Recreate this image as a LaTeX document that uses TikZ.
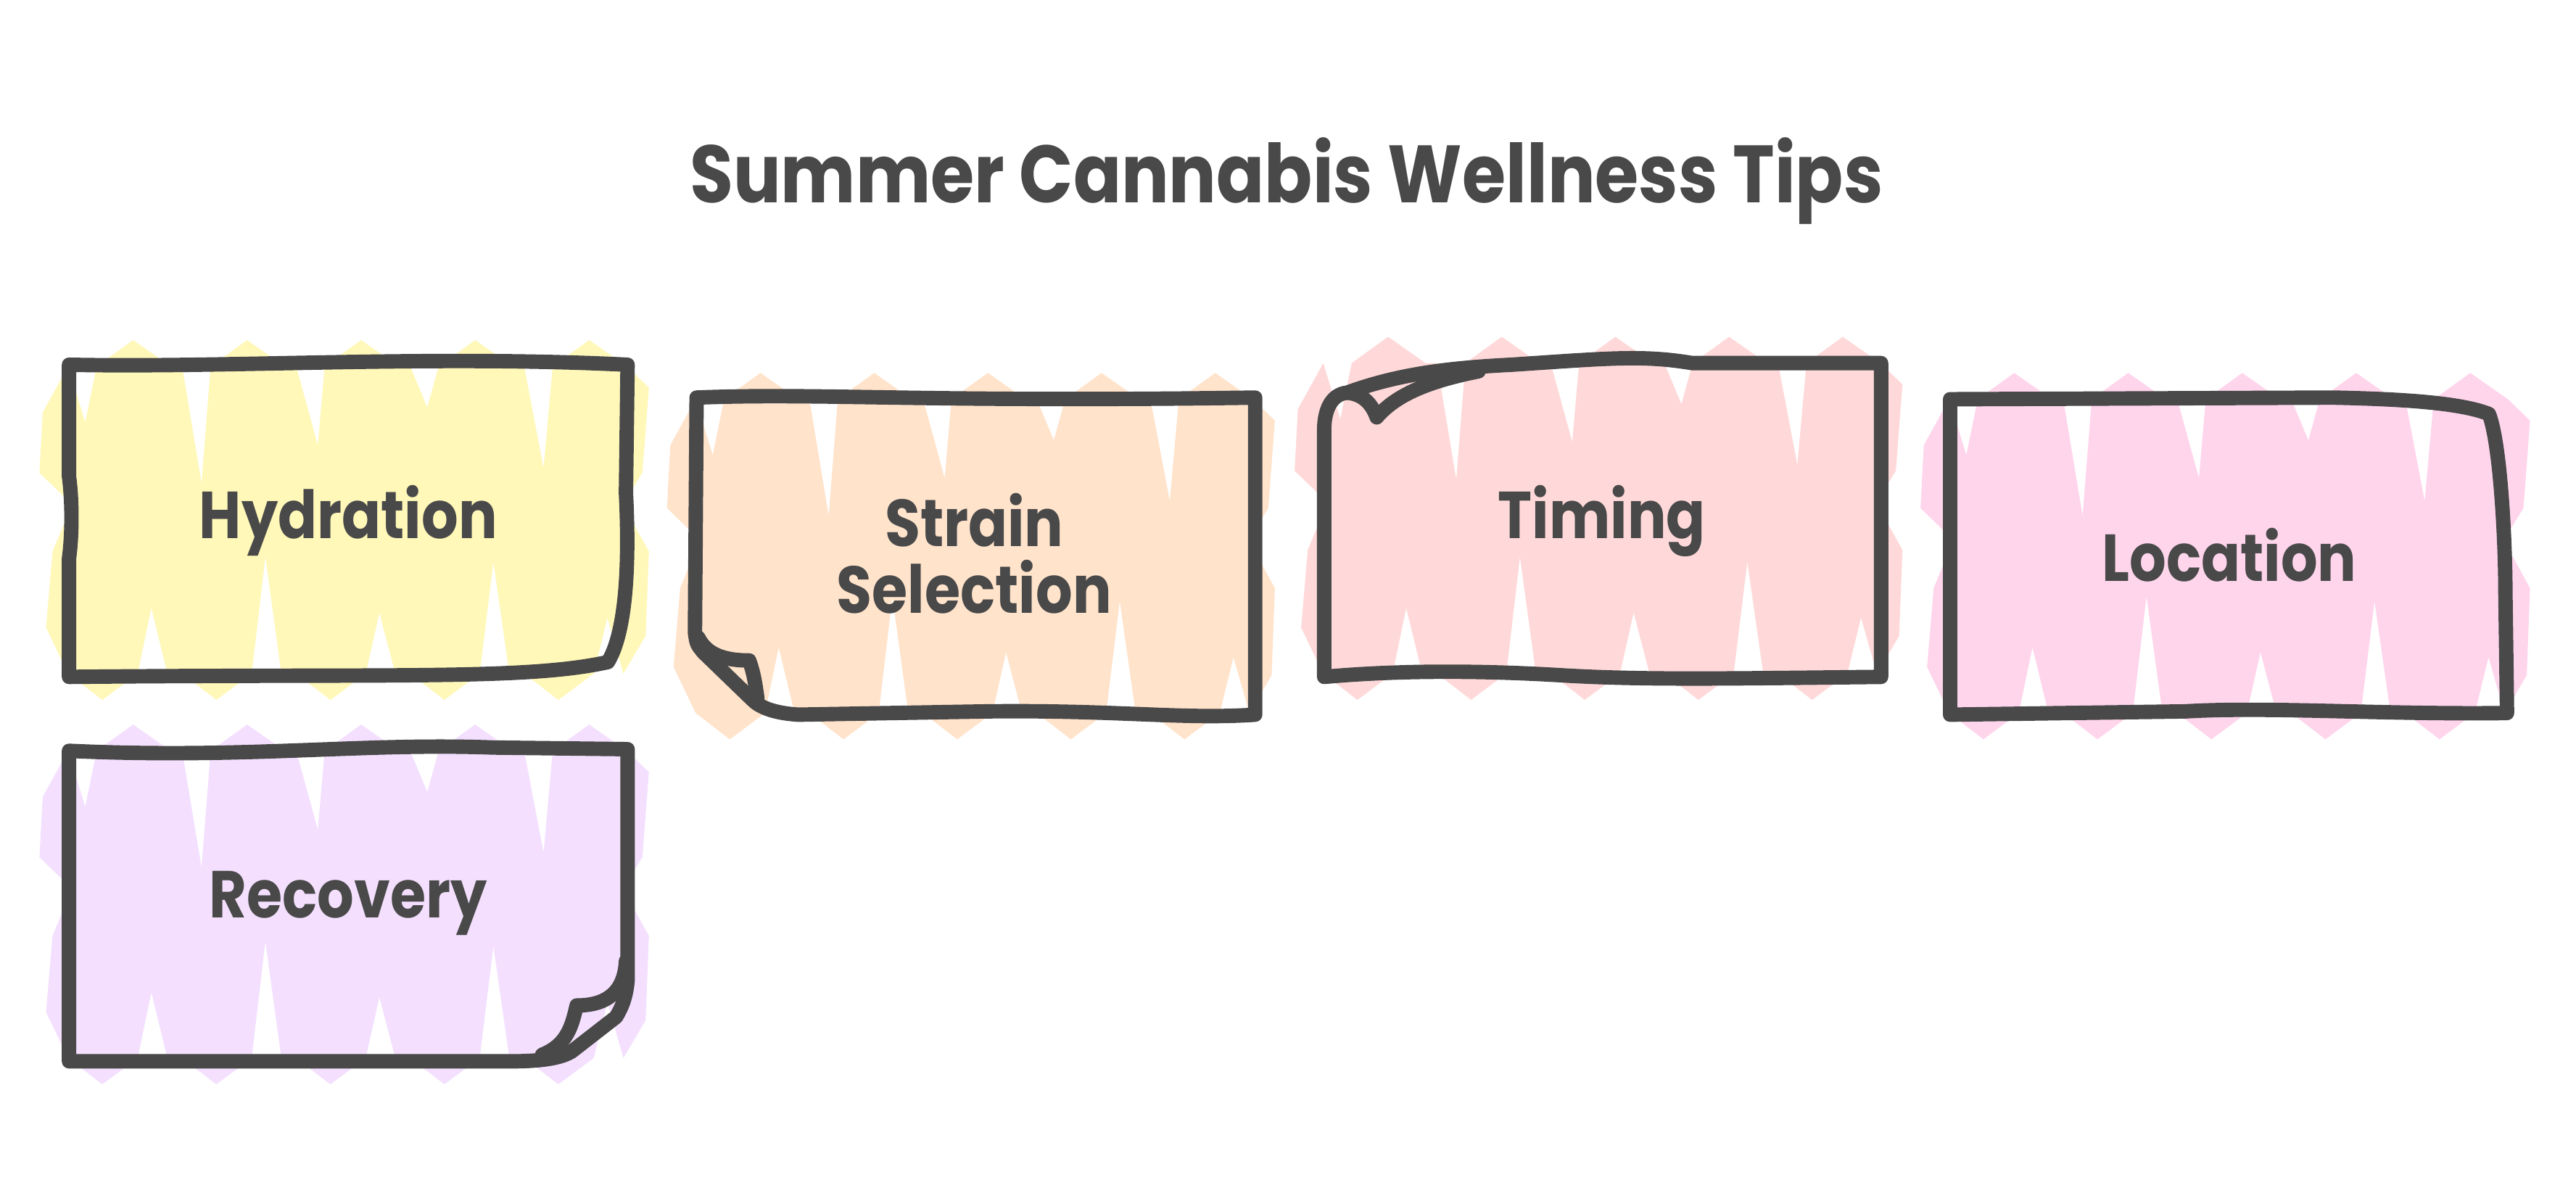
\documentclass[tikz,border=0pt]{standalone}
\usepackage{fontspec}
\usepackage{graphicx}
\setmainfont{Poppins}
\definecolor{ink}{HTML}{494949}
\definecolor{cyel}{HTML}{FFF8B9}
\definecolor{cpea}{HTML}{FFE3CB}
\definecolor{cros}{HTML}{FFD9D9}
\definecolor{cpin}{HTML}{FFD5EC}
\definecolor{clav}{HTML}{F4E0FE}
\newcommand\zigfill[5]{%
\fill[#1] ({#2-12},{#3+30})
 \foreach \k in {0,...,4}{
   -- ({#2+(\k+0.05)*(#4-#2)/5},{#3+2})
   -- ({#2+(\k+0.20+0.02*mod(\k,3))*(#4-#2)/5},{#3+25+mod(\k*37+11,60)})
   -- ({#2+(\k+0.30)*(#4-#2)/5},{#3+2})
   -- ({#2+(\k+0.62)*(#4-#2)/5},{#3-14})
   -- ({#2+(\k+0.95)*(#4-#2)/5},{#3+2})
 }
 -- ({#4+10},{#3+15}) -- ({#4+6},{#3+0.35*(#5-#3)}) -- ({#4-6},{#3+0.45*(#5-#3)}) -- ({#4+10},{#3+0.6*(#5-#3)}) -- ({#4+8},{#5-25})
 \foreach \k in {4,3,...,0}{
   -- ({#2+(\k+0.92)*(#4-#2)/5},{#5-2})
   -- ({#2+(\k+0.78)*(#4-#2)/5},{#5-25-mod(\k*31+17,65)})
   -- ({#2+(\k+0.66)*(#4-#2)/5},{#5-2})
   -- ({#2+(\k+0.35)*(#4-#2)/5},{#5+14})
   -- ({#2+(\k+0.05)*(#4-#2)/5},{#5-2})
 }
 -- ({#2-10},{#5-30}) -- ({#2-6},{#3+0.6*(#5-#3)}) -- ({#2+6},{#3+0.45*(#5-#3)}) -- ({#2-14},{#3+0.35*(#5-#3)}) -- cycle;}
\tikzset{
  boxline/.style={draw=ink, line width=5pt, line cap=round, line join=round},
  lbl/.style={text=ink, font=\fontsize{20pt}{26pt}\selectfont\bfseries, align=center},
  ttl/.style={text=ink, font=\fontsize{24.5pt}{30pt}\selectfont\bfseries}
}
\begin{document}
\begin{tikzpicture}[x=0.02cm,y=-0.02cm]
\useasboundingbox[fill=white] (0,0) rectangle (1568,731);

% title
\node[ttl] (title) at (783,110) {\scalebox{1}[1.15]{Summer Cannabis Wellness Tips}};

% fills
\zigfill{cyel}{38}{221}{385}{412}
\zigfill{cpea}{420}{241}{766}{436}
\zigfill{cros}{802}{219}{1148}{412}
\zigfill{cpin}{1183}{241}{1530}{436}
\zigfill{clav}{38}{455}{385}{646}

% Hydration box
\draw[boxline] (42,412) -- (42,340) .. controls (44,325) and (44,305) .. (42,290) -- (42,222)
  .. controls (140,224) and (260,216) .. (382,222)
  -- (381,300) .. controls (384,360) and (378,390) .. (370,403)
  .. controls (320,414) and (240,410) .. (42,412) -- cycle;
\node[lbl] (hyd) at (212,317) {\scalebox{1}[1.15]{Hydration}};

% Strain Selection box
\draw[boxline] (423,385) -- (424,242)
  .. controls (500,239) and (560,245) .. (764,242)
  -- (764,435) .. controls (720,438) and (680,432) .. (600,433)
  -- (486,435) .. controls (470,434) and (462,430) .. (458,426)
  -- (428,397) .. controls (424,392) .. (423,385) -- cycle;
\draw[boxline] (425,388) .. controls (430,398) and (440,402) .. (456,402)
  .. controls (459,410) and (460,418) .. (461,425);
\node[lbl] (str) at (593,337) {\scalebox{1}[1.15]{Strain}\\[-3pt]\scalebox{1}[1.15]{Selection}};

% Timing box
\draw[boxline] (806,412) -- (806,262)
  .. controls (806,250) and (810,240) .. (820,239)
  .. controls (850,228) and (880,224) .. (920,222)
  .. controls (980,218) and (1000,216) .. (1030,221)
  -- (1145,221) -- (1145,412)
  .. controls (1050,413) and (1000,414) .. (950,411)
  .. controls (900,408) and (850,408) .. (806,412) -- cycle;
\draw[boxline] (820,239) .. controls (830,240) and (835,246) .. (838,254)
  .. controls (850,240) and (870,232) .. (900,226);
\node[lbl] (tim) at (975,317) {\scalebox{1}[1.15]{Timing}};

% Location box
\draw[boxline] (1187,435) -- (1187,243)
  -- (1420,242) .. controls (1470,243) and (1500,246) .. (1515,252)
  .. controls (1522,270) and (1525,330) .. (1525,360)
  -- (1526,434) .. controls (1450,435) and (1380,430) .. (1330,433)
  -- cycle;
\node[lbl] (loc) at (1357,338) {\scalebox{1}[1.15]{Location}};

% Recovery box
\draw[boxline] (42,646) -- (42,457)
  .. controls (150,462) and (220,452) .. (300,455) -- (382,456)
  -- (382,597) .. controls (381,608) and (378,614) .. (375,619)
  -- (348,640) .. controls (340,645) and (325,646) .. (310,646) -- cycle;
\draw[boxline] (381,585) .. controls (380,605) and (368,612) .. (351,612)
  .. controls (348,625) and (345,636) .. (330,642);
\node[lbl] (rec) at (212,550) {\scalebox{1}[1.15]{Recovery}};
\end{tikzpicture}
\end{document}
